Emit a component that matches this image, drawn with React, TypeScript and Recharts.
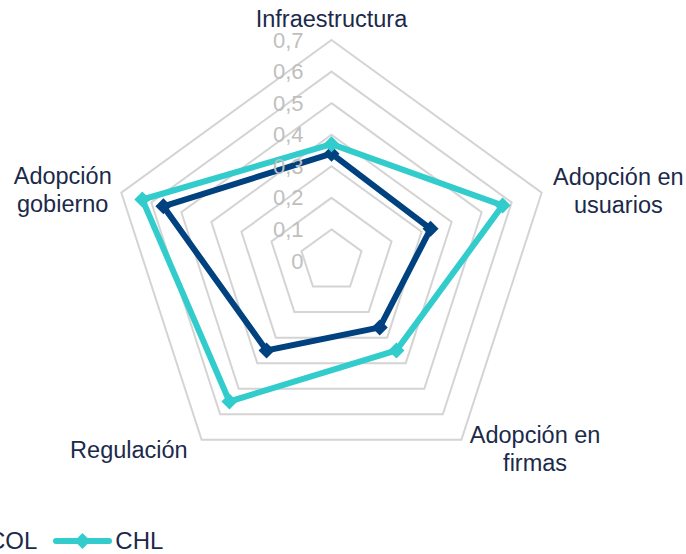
import React from 'react'
import {
  RadarChart, Radar, PolarGrid, PolarAngleAxis, PolarRadiusAxis, Legend,
} from 'recharts'

const categories = ['Infraestructura', 'Adopción en usuarios', 'Adopción en firmas', 'Regulación', 'Adopción gobierno']
const colValues = [0.34, 0.33, 0.26, 0.35, 0.56]
const chlValues = [0.37, 0.57, 0.35, 0.55, 0.63]
const radiusTicks = [0, 0.1, 0.2, 0.3, 0.4, 0.5, 0.6, 0.7]
const seriesOrder = ['COL', 'CHL']

const data = categories.map((name, i) => ({ name, COL: colValues[i], CHL: chlValues[i] }))

const FONT = '"Liberation Sans", Arial, sans-serif'
const TEXT = '#1b2a4a'
const COL_COLOR = '#00427f'
const CHL_COLOR = '#33cccc'

// label placement around each vertex (offset from recharts tick point)
const labelLines: Record<string, string[]> = {
  'Infraestructura': ['Infraestructura'],
  'Adopción en usuarios': ['Adopción en', 'usuarios'],
  'Adopción en firmas': ['Adopción en', 'firmas'],
  'Regulación': ['Regulación'],
  'Adopción gobierno': ['Adopción', 'gobierno'],
}
const labelOffset: Record<string, [number, number]> = {
  'Infraestructura': [0, -13],
  'Adopción en usuarios': [69, 1],
  'Adopción en firmas': [69, 3],
  'Regulación': [-68, 4],
  'Adopción gobierno': [-51, 0],
}

const AngleTick = (props: any) => {
  const { x, y, payload } = props
  const name = payload.value
  const lines = labelLines[name] || [name]
  const [dx, dy] = labelOffset[name] || [0, 0]
  const cx = x + dx
  const cy = y + dy
  const lh = 28
  const start = cy - ((lines.length - 1) * lh) / 2
  return (
    <g>
      {lines.map((l, i) => (
        <text key={i} x={cx} y={start + i * lh} textAnchor="middle" dominantBaseline="central"
          fill={TEXT} fontSize={23.5} fontFamily={FONT}>{l}</text>
      ))}
    </g>
  )
}

const RadiusTick = (props: any) => {
  const { x, y, payload } = props
  const label = String(+Number(payload.value).toFixed(1)).replace('.', ',')
  return (
    <text x={x - 28} y={y} textAnchor="end" dominantBaseline="central"
      fill="#bfbfbf" fontSize={22} fontFamily={FONT}>{label}</text>
  )
}

const diamond = (color: string) => (props: any) => {
  const { cx, cy, key } = props
  const s = 8
  return (
    <path key={key} d={`M${cx},${cy - s} L${cx + s},${cy} L${cx},${cy + s} L${cx - s},${cy} Z`} fill={color} stroke="none" />
  )
}

const renderLegend = (props: any) => {
  const payload = [...(props.payload || [])].sort(
    (a: any, b: any) => seriesOrder.indexOf(a.value) - seriesOrder.indexOf(b.value))
  return (
    <div style={{ display: 'flex', alignItems: 'center', gap: 16, fontFamily: FONT, fontSize: 24, color: TEXT }}>
      {payload.map((entry: any, i: number) => (
        <div key={i} style={{ display: 'flex', alignItems: 'center', gap: 3 }}>
          <svg width={59} height={16}>
            <line x1={3} y1={8} x2={56} y2={8} stroke={entry.color} strokeWidth={6} strokeLinecap="round" />
            <path d="M29.5,0 L37.5,8 L29.5,16 L21.5,8 Z" fill={entry.color} />
          </svg>
          <span>{entry.value}</span>
        </div>
      ))}
    </div>
  )
}

export default function App() {
  return (
    <div style={{ position: 'absolute', left: 0, top: 0, width: 686, height: 554, background: '#fff', overflow: 'hidden' }}>
      <RadarChart width={686} height={554} data={data} cx={331.5} cy={261} outerRadius={221}
        startAngle={90} endAngle={-270} margin={{ top: 0, right: 0, bottom: 0, left: 0 }}>
        <PolarGrid gridType="polygon" radialLines={false} stroke="#d4d4d4" strokeWidth={2} />
        <PolarAngleAxis dataKey="name" tick={<AngleTick />} tickLine={false} axisLine={false} />
        <PolarRadiusAxis angle={90} type="number" domain={[0, 0.7]} tickCount={8} ticks={radiusTicks}
          allowDecimals allowDataOverflow axisLine={false} tickLine={false} tick={<RadiusTick />} />
        <Radar name="COL" dataKey="COL" stroke={COL_COLOR} strokeWidth={6} fill="none" fillOpacity={0}
          strokeLinejoin="miter" dot={diamond(COL_COLOR)} isAnimationActive={false} />
        <Radar name="CHL" dataKey="CHL" stroke={CHL_COLOR} strokeWidth={6} fill="none" fillOpacity={0}
          strokeLinejoin="miter" dot={diamond(CHL_COLOR)} isAnimationActive={false} />
        <Legend content={renderLegend} wrapperStyle={{ position: 'absolute', left: -74, top: 527, width: 400, bottom: 'auto' }} />
      </RadarChart>
    </div>
  )
}
